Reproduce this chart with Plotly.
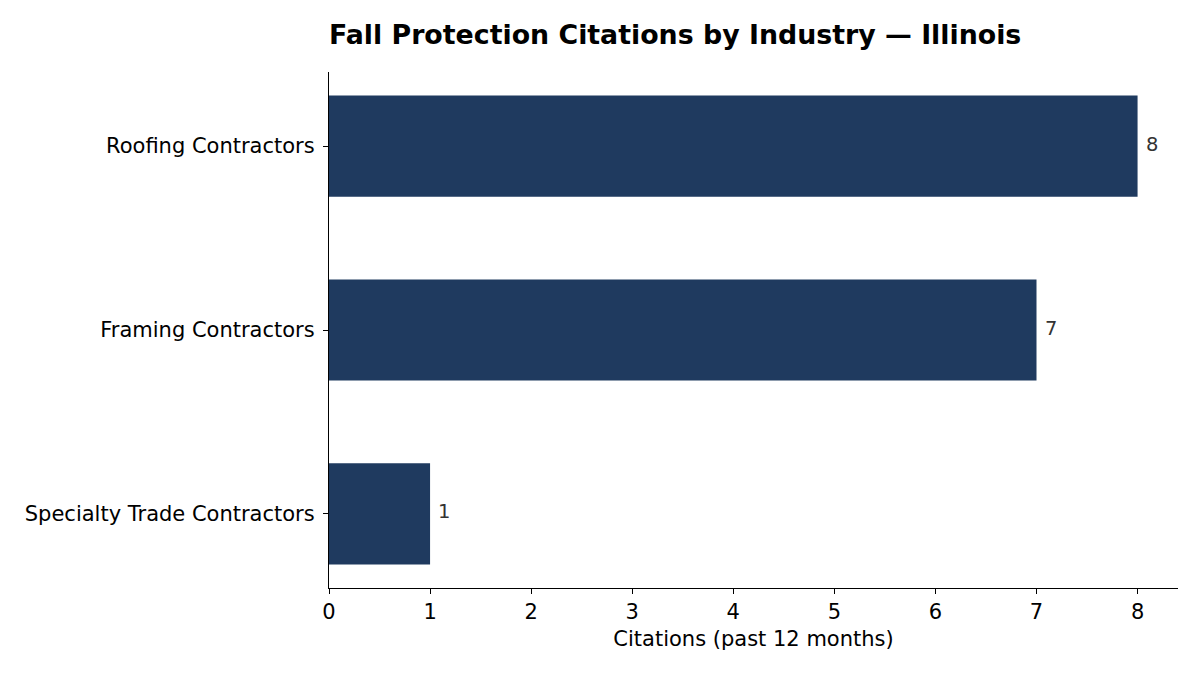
import plotly.graph_objects as go

categories = ["Specialty Trade Contractors", "Framing Contractors", "Roofing Contractors"]
citations = [1, 7, 8]
x_ticks = [0, 1, 2, 3, 4, 5, 6, 7, 8]

BAR = "#1f3a5f"
FONT = "DejaVu Sans"
TICK = 21

fig = go.Figure()
fig.add_trace(go.Bar(
    x=citations, y=categories, orientation="h",
    marker=dict(color=BAR, line=dict(width=0)),
    width=0.55, hoverinfo="x+y",
))

for c, v in zip(categories, citations):
    fig.add_annotation(
        x=v, y=c, xref="x", yref="y", text=str(v), showarrow=False,
        xanchor="left", yanchor="middle", xshift=6, yshift=2,
        font=dict(family=FONT, size=19.5, color="#333333"),
    )

fig.update_layout(
    width=1200, height=675,
    margin=dict(l=329, r=22, t=72, b=87),
    plot_bgcolor="white", paper_bgcolor="white",
    showlegend=False,
    font=dict(family=FONT, size=TICK, color="black"),
    title=dict(
        text="<b>Fall Protection Citations by Industry — Illinois</b>",
        x=0, xref="paper", xanchor="left",
        y=1 - 35 / 675, yref="container", yanchor="middle",
        font=dict(family=FONT, size=26.8, color="black"),
    ),
    xaxis=dict(
        range=[0, 8.4], tickmode="array", tickvals=x_ticks,
        ticktext=[str(t) for t in x_ticks],
        showline=True, linecolor="black", linewidth=1.2,
        ticks="outside", ticklen=5, tickwidth=1.1, tickcolor="black",
        showgrid=False, zeroline=False,
        title=dict(text="Citations (past 12 months)", standoff=8,
                   font=dict(family=FONT, size=TICK, color="black")),
        tickfont=dict(family=FONT, size=TICK, color="black"),
    ),
    yaxis=dict(
        type="category", categoryorder="array", categoryarray=categories,
        range=[-0.4025, 2.4025],
        showline=True, linecolor="black", linewidth=1.2,
        ticks="outside", ticklen=5, tickwidth=1.1, tickcolor="black",
        ticklabelstandoff=4,
        showgrid=False, zeroline=False,
        tickfont=dict(family=FONT, size=TICK, color="black"),
    ),
)

fig.write_html("out.html")
